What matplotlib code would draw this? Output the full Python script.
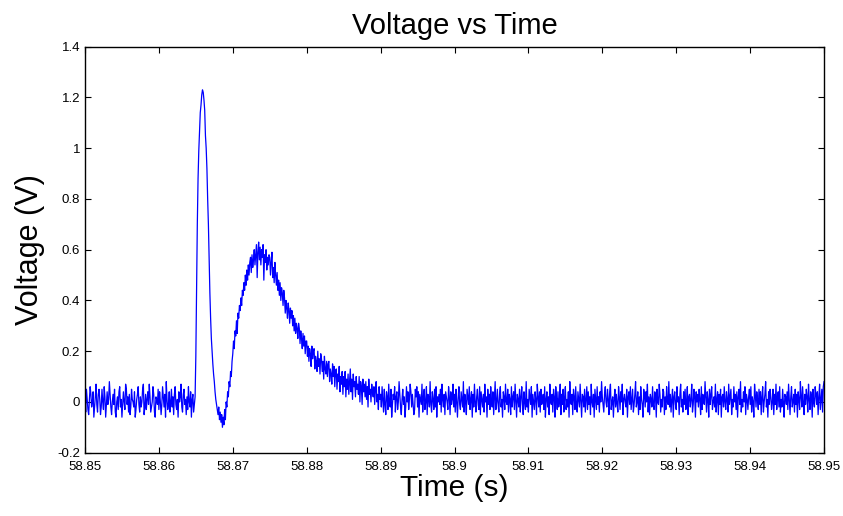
import numpy as np
import matplotlib
matplotlib.use("Agg")
from matplotlib import pyplot as plt

plt.rcParams['font.family'] = ['Liberation Sans', 'DejaVu Sans']

# sample spacing (s) and start time
t0 = 58.85
dt = 0.0001

# voltage readings in hundredths of a volt, segment by segment
# baseline before the pulse (58.8500 - 58.8649)
pre_cv = [2, -4, 5, 1, -3, -5, 1, 6, 3, -2,
          0, 4, -6, -2, 2, 7, -1, -4, 3, 5,
          1, -5, -2, 5, 0, -3, 6, 2, -6, -1,
          4, -1, 1, 8, 3, -2, -5, 0, 3, -1,
          5, -4, -6, 0, 2, -3, 4, 6, -2, 1,
          -6, -1, 4, 0, -3, 7, 5, -1, 2, -4,
          3, -5, -2, 5, 1, 0, -2, 4, -6, -3,
          1, 3, 6, -1, -4, 2, -2, 0, 5, 7,
          -5, -2, 3, -3, 1, 4, -1, 7, 2, -4,
          -2, 0, 6, 3, -4, -6, 2, 1, -1, 5,
          -3, 4, 0, -5, -1, 6, 2, -2, 3, -6,
          8, 1, -3, -1, 4, -4, 0, 5, -2, 2,
          -5, 3, 6, -1, -3, 1, -6, 4, 0, 2,
          7, -2, -4, 3, 5, -1, 1, -5, 2, -3,
          6, 0, -2, 4, -6, 1, 3, -4, -1, 2]

# spike, undershoot and second hump (58.8650 - 58.8749)
pulse_cv = [18, 45, 70, 88, 99, 106, 114, 117, 121, 123,
            122, 119, 115, 105, 100, 92, 80, 70, 56, 43,
            33, 25, 20, 15, 11, 8, 4, 1, -1, -3,
            -5, -2, -7, -4, -8, -5, -10, -6, -9, -3,
            -7, 0, -2, 4, 2, 8, 6, 12, 10, 16,
            19, 24, 21, 28, 26, 32, 27, 35, 33, 38,
            36, 41, 38, 44, 42, 47, 44, 50, 46, 52,
            48, 54, 50, 55, 57, 51, 58, 53, 56, 60,
            54, 58, 62, 49, 59, 63, 56, 61, 54, 60,
            57, 62, 48, 58, 55, 60, 52, 57, 54, 58]

# decay of the hump (58.8750 - 58.8899)
decay_cv = [57, 50, 55, 59, 49, 53, 47, 55, 50, 46,
            51, 44, 48, 42, 47, 40, 45, 43, 38, 44,
            41, 35, 40, 37, 33, 39, 36, 31, 37, 33,
            36, 30, 34, 28, 33, 27, 31, 29, 25, 31,
            29, 23, 28, 25, 21, 27, 22, 26, 19, 24,
            24, 18, 22, 16, 21, 19, 14, 22, 17, 20,
            21, 13, 18, 16, 12, 20, 14, 17, 11, 19,
            17, 12, 16, 9, 18, 13, 11, 16, 10, 15,
            16, 8, 13, 11, 7, 15, 10, 14, 6, 12,
            13, 5, 11, 8, 14, 4, 10, 7, 12, 3,
            10, 6, 12, 2, 9, 5, 11, 3, 8, 13,
            4, 9, 1, 11, 6, 8, 2, 10, 5, 7,
            3, 10, 0, 8, 6, -1, 9, 4, 7, 2,
            8, 1, 6, -2, 9, 3, 5, 0, 7, 4,
            2, 6, -1, 5, 8, 0, 3, -3, 6, 1]

# baseline after the pulse (58.8900 - 58.9500)
post_cv = [3, -2, 6, 1, -4, 5, -1, -5, 4, 2,
           -3, 7, 0, -2, 5, -6, -1, 3, 1, 6,
           -4, 2, 4, -3, 0, 8, 3, -2, -5, 1,
           5, -1, 2, -6, -2, 6, 0, 4, -3, 1,
           7, 4, -2, 3, -1, -5, -3, 5, 2, 6,
           -2, 4, -6, 3, 1, -1, 7, -4, 2, 5,
           -3, 0, 6, -5, 3, 2, -2, 8, -1, -4,
           4, 1, -3, 5, -2, 6, -6, 2, 0, 3,
           -1, 5, -4, 7, 1, -2, 3, -5, 4, 2,
           0, -3, 6, 2, -5, 4, -1, 1, 7, -2,
           3, -4, 5, 0, -6, 2, 6, -1, -3, 4,
           1, -2, 8, -4, 3, 0, -5, 5, 2, -1,
           6, -3, 1, 4, -6, 3, -2, 7, 0, -4,
           2, 5, -1, -3, 6, -5, 4, 1, -2, 3,
           -4, 7, 0, 2, -6, 5, -1, 3, -3, 6,
           1, -2, 4, -5, 2, 8, -3, 0, 5, -1,
           -4, 3, 6, -2, 1, -6, 4, 2, -3, 7,
           0, -1, 5, -4, 3, 1, -5, 6, -2, 2,
           4, -3, 7, 0, -6, 3, 1, -2, 5, -4,
           2, 6, -1, -5, 4, 0, -3, 8, -2, 1,
           -4, 5, 2, -1, 6, -6, 3, 0, -3, 4,
           1, -5, 7, 2, -2, 4, -4, 5, -1, 0,
           3, -3, 6, -6, 1, 4, -2, 2, -5, 7,
           0, -1, 3, -4, 5, 2, -6, 6, 1, -3,
           4, -2, 0, 7, -5, 3, -1, 5, -4, 2,
           6, -3, 1, -2, 4, -6, 8, 0, -1, 3,
           -5, 5, 2, -3, 6, -1, -4, 4, 1, -2,
           7, 0, -6, 3, 2, -2, 5, -4, 1, 6,
           -3, 4, -1, 2, -5, 7, 0, -2, 3, -6,
           5, 1, -3, 6, -1, 2, -4, 4, 0, 8,
           2, -1, -4, 3, 6, 0, -2, 5, 1, -5,
           4, 7, -3, 0, 2, -6, 1, 5, -2, 3,
           -1, -4, 6, 2, -3, 4, 0, 7, -5, 1,
           3, 0, -2, 5, -6, 2, 4, -1, 6, -3,
           1, 5, -4, -1, 3, 8, -2, 0, 4, -5,
           2, -3, 6, 1, -1, -6, 5, 3, -2, 4,
           0, 7, -4, 2, -5, 3, 1, -2, 6, -1,
           -3, 4, 2, -6, 5, 0, -1, 7, 3, -4,
           1, -2, 5, 4, -5, 2, -3, 6, 0, -1,
           8, -2, 3, -4, 1, 5, -6, 2, 4, -1,
           -3, 6, 0, 2, -5, 3, 7, -2, 1, -4,
           4, -1, 5, -3, 0, 6, -5, 2, 3, -2,
           1, 7, -4, -1, 5, 2, -6, 4, 0, 3,
           -2, 5, 1, -5, 6, -3, 3, 0, -1, 8,
           2, -4, 4, 1, -6, 5, -1, 3, 6, -3,
           0, 2, -2, 7, -4, 1, 4, -5, 3, -1,
           5, -6, 2, 3, -2, 6, 0, -3, 4, 1,
           -4, 7, -1, 2, 5, -5, 1, -2, 6, 0,
           3, -3, 4, -6, 2, 5, -1, 8, -4, 1,
           -2, 4, 0, 6, -5, 3, 1, -3, 2, 5,
           -1, 6, -4, 2, 0, -6, 7, 3, -2, 4,
           1, -3, 5, -1, 4, -5, 2, 6, -4, 0,
           3, 8, -2, 1, -6, 4, -1, 5, 2, -3,
           0, 5, -5, 3, -1, 7, -3, 2, 4, -2,
           6, -4, 1, -2, 5, 0, -6, 3, 2, -1,
           4, -3, 7, 1, -5, 2, 6, -2, 0, 3,
           -4, 5, -1, 3, -6, 4, 1, -3, 8, 2,
           -2, 6, 0, -5, 3, -1, 5, 2, -4, 7,
           1, -3, 4, 2, -6, 5, 0, -2, 6, 3,
           -1, 4, -5, 2, 7, -3, 1, 5, -4, 6,
           8]

xticks = [58.85, 58.86, 58.87, 58.88, 58.89, 58.9, 58.91, 58.92, 58.93, 58.94, 58.95]
xlabels = ['58.85', '58.86', '58.87', '58.88', '58.89', '58.9', '58.91', '58.92', '58.93', '58.94', '58.95']
yticks = [-0.2, 0, 0.2, 0.4, 0.6, 0.8, 1, 1.2, 1.4]
ylabels = ['-0.2', '0', '0.2', '0.4', '0.6', '0.8', '1', '1.2', '1.4']

volts = np.array(pre_cv + pulse_cv + decay_cv + post_cv) / 100.0
t = t0 + dt * np.arange(len(volts))

fig = plt.figure(figsize=(8.43, 5.16), dpi=100)
ax = fig.add_axes([0.1008, 0.1227, 0.8767, 0.7868])

ax.plot(t, volts, color='#0000ff', linewidth=0.9)

ax.set_xlim(58.85, 58.95)
ax.set_ylim(-0.2, 1.4)
ax.set_xticks(xticks)
ax.set_xticklabels(xlabels)
ax.set_yticks(yticks)
ax.set_yticklabels(ylabels)
ax.tick_params(direction='in', top=True, right=True, length=4, width=0.8,
               labelsize=9.5)
ax.tick_params(axis='x', pad=6)
ax.tick_params(axis='y', pad=3.5)
for s in ax.spines.values():
    s.set_linewidth(1.0)

ax.set_title('Voltage vs Time', fontsize=21, pad=9)
ax.set_xlabel('Time (s)', fontsize=21.5, labelpad=1)
ax.set_ylabel('Voltage (V)', fontsize=22, labelpad=9)

fig.savefig('out.png', dpi=100)
